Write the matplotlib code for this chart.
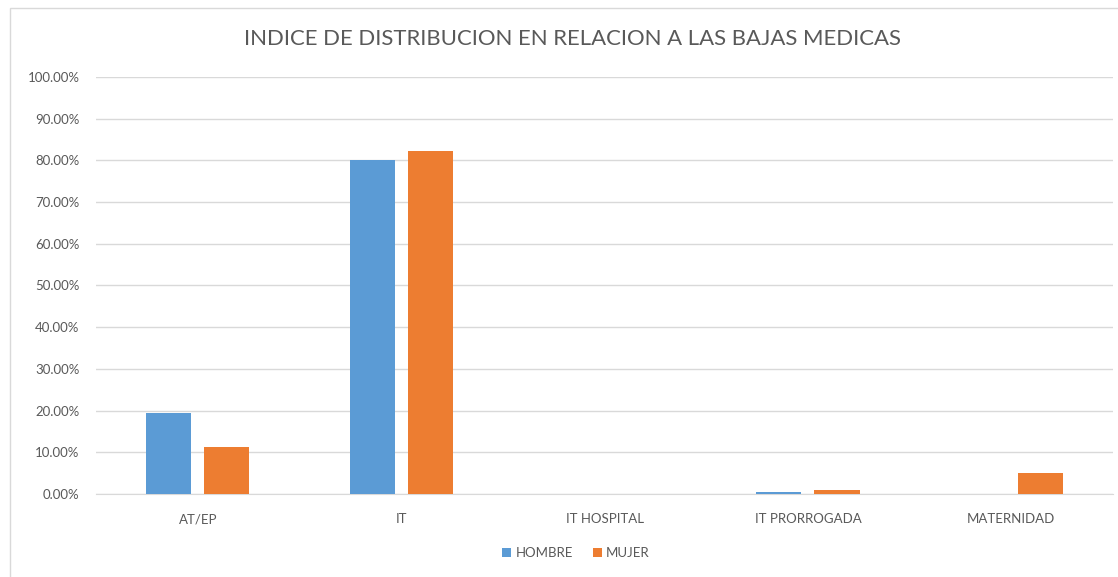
import matplotlib.pyplot as plt
import numpy as np
from matplotlib.ticker import FuncFormatter
from matplotlib.patches import Rectangle

categories = ["AT/EP", "IT", "IT HOSPITAL", "IT PRORROGADA", "MATERNIDAD"]
hombre = [19.4, 80.1, 0.0, 0.4, 0.0]
mujer = [11.3, 82.3, 0.0, 0.9, 5.0]

plt.rcParams['font.family'] = ['Lato', 'DejaVu Sans']

fig = plt.figure(figsize=(11.18, 5.77), dpi=100)
ax = fig.add_axes([0.086, 0.1438, 0.9095, 0.7228])

x = np.arange(len(categories))
w = 0.222
ax.bar(x - 0.143, hombre, width=w, color='#5b9bd5', label='HOMBRE', zorder=3)
ax.bar(x + 0.143, mujer, width=w, color='#ed7d31', label='MUJER', zorder=3)

ax.set_xlim(-0.5, len(categories) - 0.5)
ax.set_ylim(0, 100)
ax.set_yticks(np.arange(0, 101, 10))
ax.yaxis.set_major_formatter(FuncFormatter(lambda v, p: f"{v:.2f}%"))
ax.set_xticks(x)
ax.set_xticklabels(categories)
ax.grid(axis='y', color='#d9d9d9', linewidth=1, zorder=0)
for s in ['top', 'right', 'left']:
    ax.spines[s].set_visible(False)
ax.spines['bottom'].set_color('#d9d9d9')
ax.tick_params(axis='both', length=0, colors='#595959', labelsize=9.5)
ax.tick_params(axis='x', pad=14)
ax.tick_params(axis='y', pad=12)

fig.text(0.512, 0.932, "INDICE DE DISTRIBUCION EN RELACION A LAS BAJAS MEDICAS",
         ha='center', va='center', fontsize=15.9, color='#595959')

leg = fig.legend(loc='center', bbox_to_anchor=(0.515, 0.042), ncol=2, frameon=False,
                 fontsize=9.5, handlelength=0.7, handleheight=0.7, handletextpad=0.3,
                 columnspacing=1.5)
for t in leg.get_texts():
    t.set_color('#595959')

fig.patches.append(Rectangle((0.009, -0.01), 1.0, 0.996, transform=fig.transFigure,
                             fill=False, edgecolor='#d9d9d9', linewidth=1))

fig.savefig('out.png', dpi=100, facecolor='white')
